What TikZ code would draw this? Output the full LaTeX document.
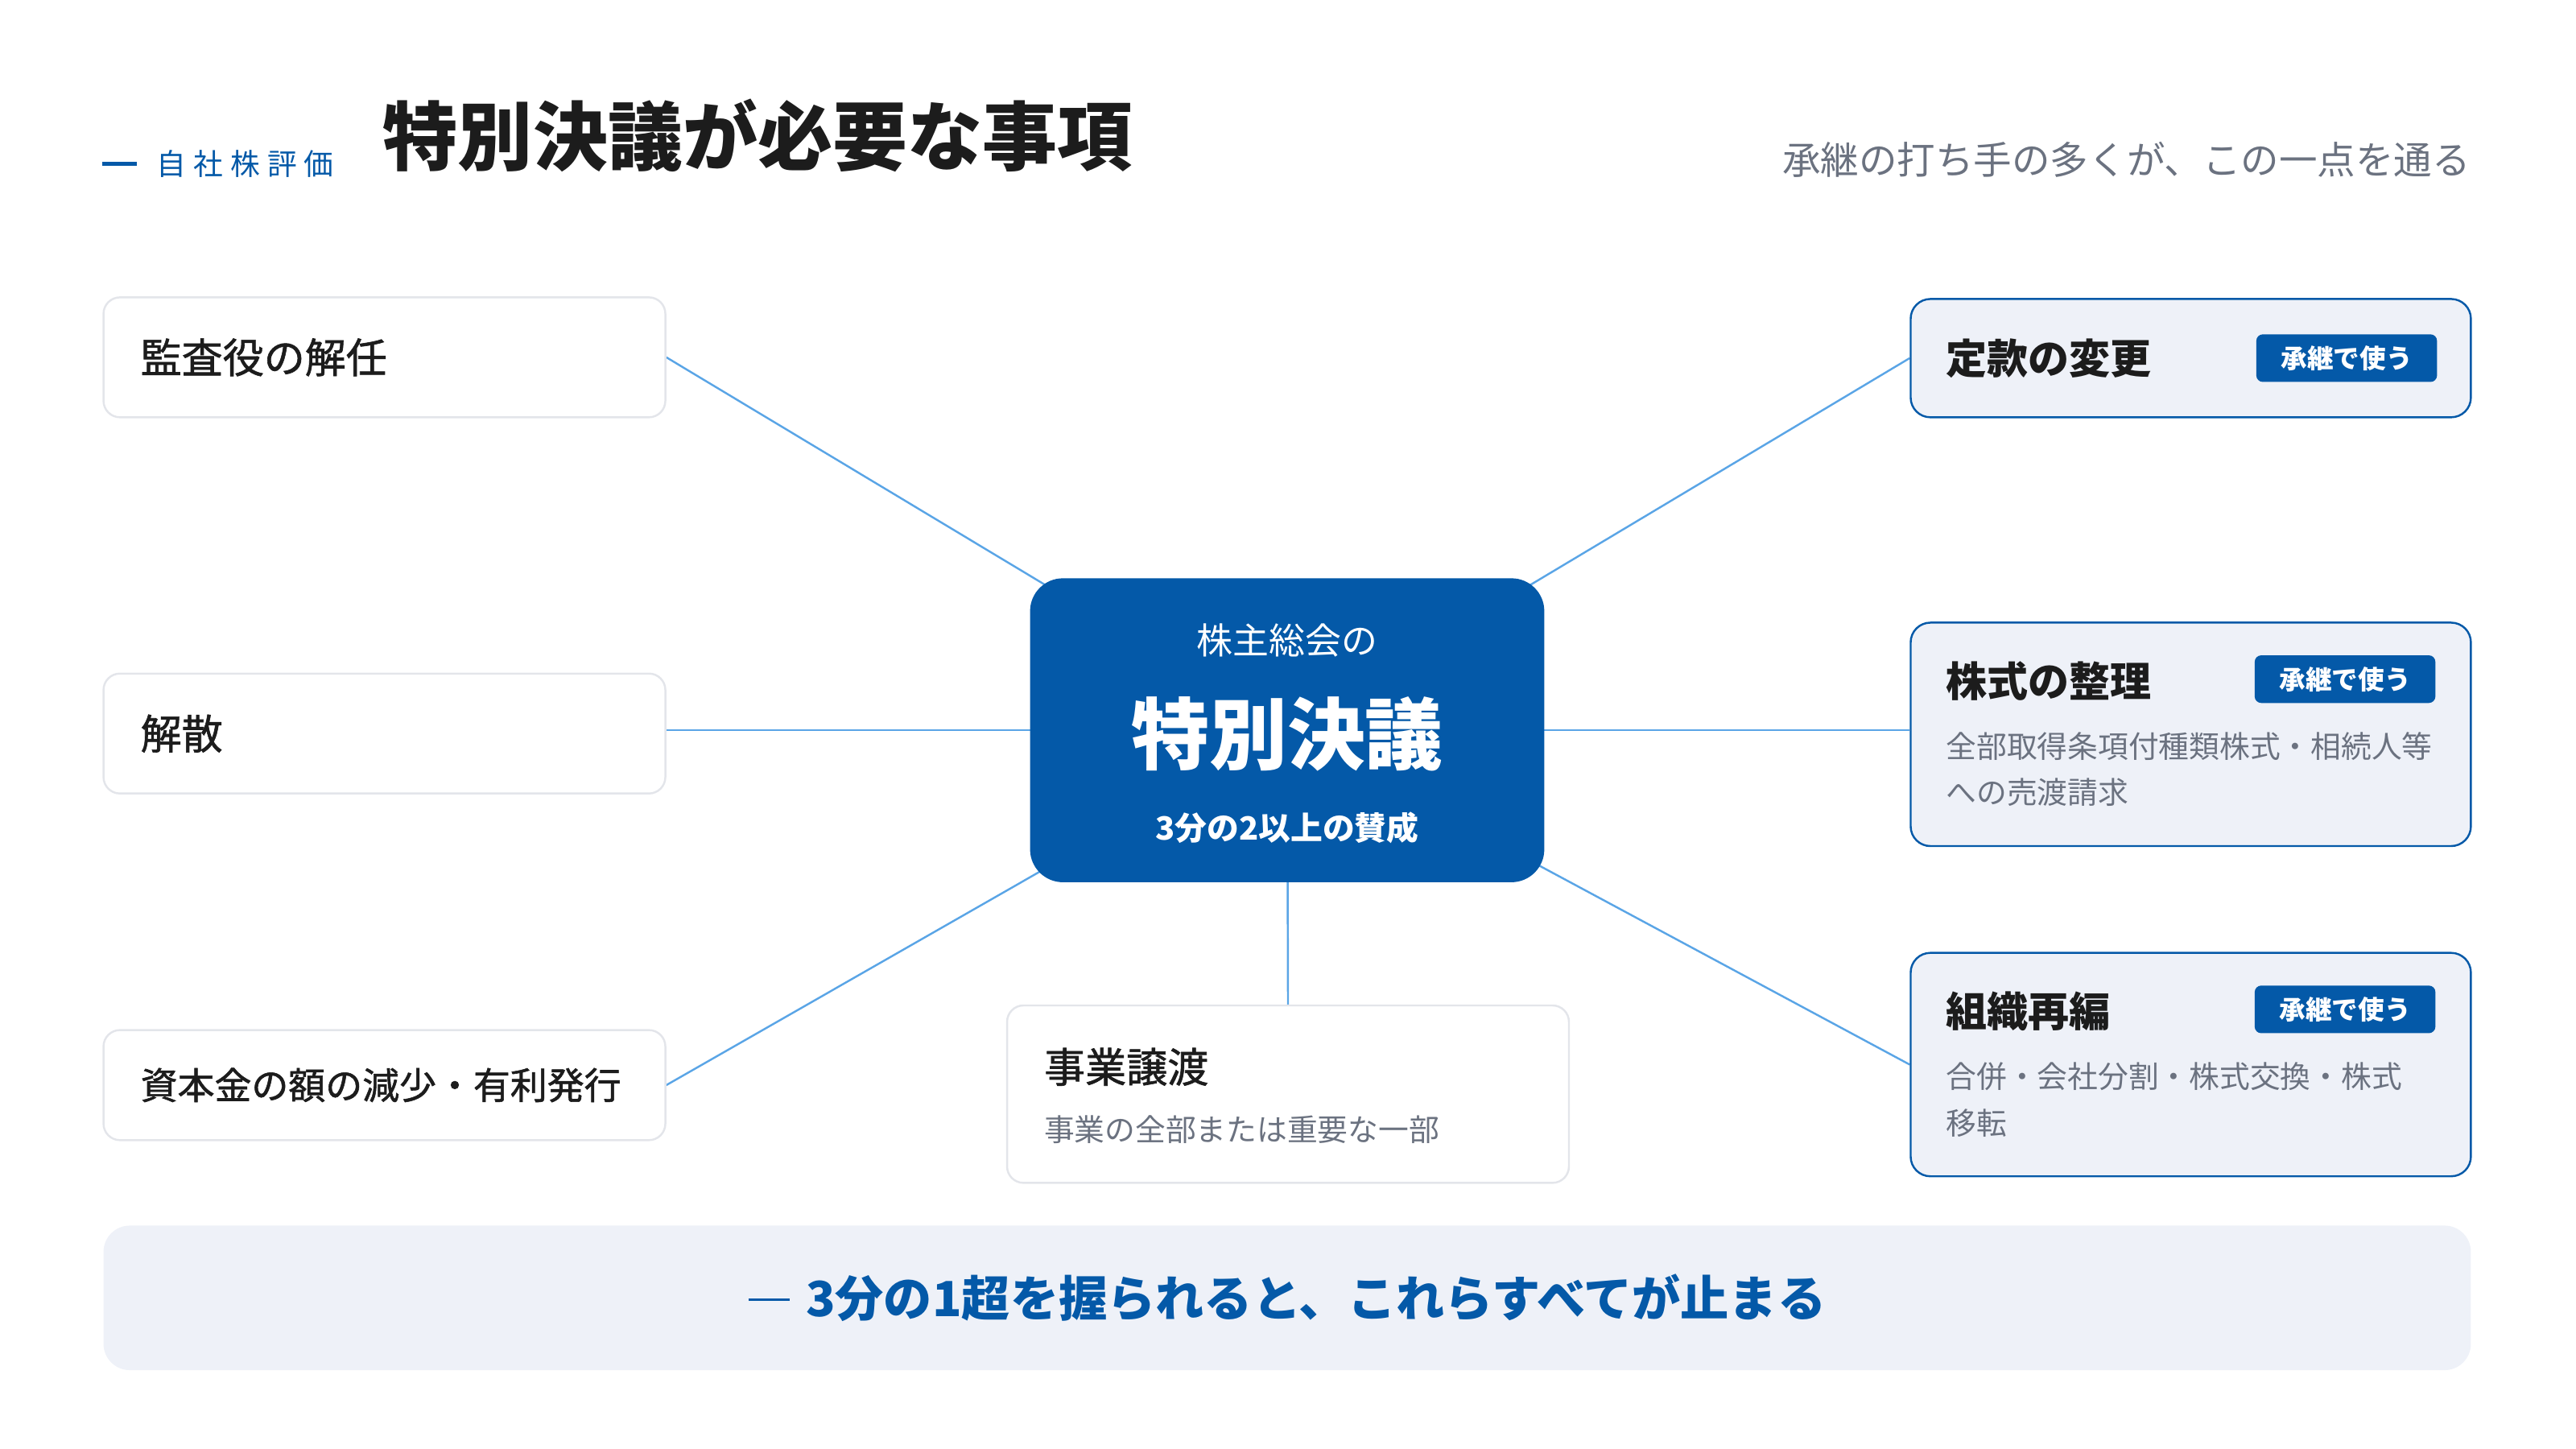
\documentclass[tikz,border=0pt]{standalone}
\usepackage{fontspec}
\setmainfont{Noto Sans CJK JP}
\newfontfamily\medfont[FakeBold=1.2]{Noto Sans CJK JP}
\usepackage{xcolor}
\usetikzlibrary{positioning,backgrounds}

\definecolor{mainblue}{HTML}{0459A8}
\definecolor{paleblue}{HTML}{EEF1F8}
\definecolor{linkblue}{HTML}{5AA5E6}
\definecolor{bordergray}{HTML}{E3E5EA}
\definecolor{textgray}{HTML}{6B7280}
\definecolor{inkblack}{HTML}{1C1C1C}
\newcommand{\fsize}[1]{\fontsize{#1}{#1}\selectfont}

\tikzset{
  leftbox/.style={draw=bordergray, line width=1.2pt, fill=white, rounded corners=10pt,
    minimum width=342pt, minimum height=73pt, inner sep=0pt},
  rightbox/.style={draw=mainblue, line width=1.2pt, fill=paleblue, rounded corners=12pt,
    minimum width=341pt, inner sep=0pt},
  badge/.style={fill=mainblue, rounded corners=4pt, minimum width=110pt, minimum height=29pt,
    inner sep=0pt, text=white, font=\bfseries\fsize{16}},
  itemtitle/.style={anchor=west, inner sep=0pt, text=inkblack, font=\bfseries\fsize{25}},
  desc/.style={anchor=west, inner sep=0pt, text=textgray, font=\fsize{18.5}},
  link/.style={draw=linkblue, line width=1.2pt}
}

\begin{document}
\begin{tikzpicture}[x=1pt,y=-1pt]
\useasboundingbox (0,0) rectangle (1568,882);

\node[anchor=west, inner sep=0pt, text=mainblue, font=\fsize{18}] (tag) at (62,99.5)
  {\rule[0.3em]{21pt}{2.4pt}\hspace{12pt}自\hspace{4.5pt}社\hspace{4.5pt}株\hspace{4.5pt}評\hspace{4.5pt}価};
\node[anchor=west, inner sep=0pt, text=inkblack, font=\bfseries\fsize{45.6}] (title) at (233,82.5) {特別決議が必要な事項};
\node[anchor=east, inner sep=0pt, text=textgray, font=\fsize{23.3}] (sub) at (1504,97) {承継の打ち手の多くが、この一点を通る};

\node[fill=mainblue, rounded corners=20pt, minimum width=313pt, minimum height=185pt] (hub) at (783.5,444.5) {};
\node[text=white, font=\fsize{22}] (hubtop) at (783.5,390) {株主総会の};
\node[text=white, font=\bfseries\fsize{47.5}] (hubmain) at (783.5,447) {特別決議};
\node[text=white, font=\bfseries\fsize{19.5}] (hubsub) at (783.5,504) {3分の2以上の賛成};

\foreach \n/\y/\h/\s/\t in {kansa/217.5/73/25/監査役の解任, kaisan/446.5/73/25/解散, shihon/660.5/67/22.5/資本金の額の減少・有利発行}{
  \node[leftbox, minimum height=\h pt] (\n) at (234,\y) {};
  \node[anchor=west, inner sep=0pt, text=inkblack, font=\medfont\fsize{\s}] at ([xshift=23pt]\n.west) {\t};
}

\node[leftbox, minimum height=108pt] (jigyo) at (784,666) {};
\node[itemtitle, font=\medfont\fsize{25}] at ([xshift=23pt,yshift=-38pt]jigyo.north west) {事業譲渡};
\node[desc] at ([xshift=23pt,yshift=-76pt]jigyo.north west) {事業の全部または重要な一部};

\node[rightbox, minimum height=72pt] (teikan) at (1333.5,218) {};
\node[itemtitle] at ([xshift=22pt]teikan.west) {定款の変更};
\node[badge, anchor=east] at ([xshift=-21pt]teikan.east) {承継で使う};

\foreach \n/\y/\t/\a/\b in {kabu/447/株式の整理/全部取得条項付種類株式・相続人等/への売渡請求, soshiki/648/組織再編/合併・会社分割・株式交換・株式/移転}{
  \node[rightbox, minimum height=136pt] (\n) at (1333.5,\y) {};
  \node[itemtitle] at ([xshift=22pt,yshift=-36pt]\n.north west) {\t};
  \node[badge, anchor=east] at ([xshift=-22pt,yshift=-35pt]\n.north east) {承継で使う};
  \node[desc] at ([xshift=22pt,yshift=-76pt]\n.north west) {\a};
  \node[desc] at ([xshift=22pt,yshift=-104pt]\n.north west) {\b};
}

\begin{scope}[on background layer]
\foreach \b in {kansa.east, shihon.east, teikan.west, soshiki.west, jigyo.north}
  \draw[link] (hub.center) -- (\b);
\draw[link] (hub.center) -- (hub.center -| kaisan.east);
\draw[link] (hub.center) -- (hub.center -| kabu.west);
\end{scope}

\node[fill=paleblue, rounded corners=16pt, minimum width=1441pt, minimum height=88pt,
  text=mainblue, font=\bfseries\fsize{29.5}] (note) at (783.5,790)
  {\rule[0.32em]{25pt}{1.8pt}\hspace{10pt}3分の1超を握られると、これらすべてが止まる};

\end{tikzpicture}
\end{document}
